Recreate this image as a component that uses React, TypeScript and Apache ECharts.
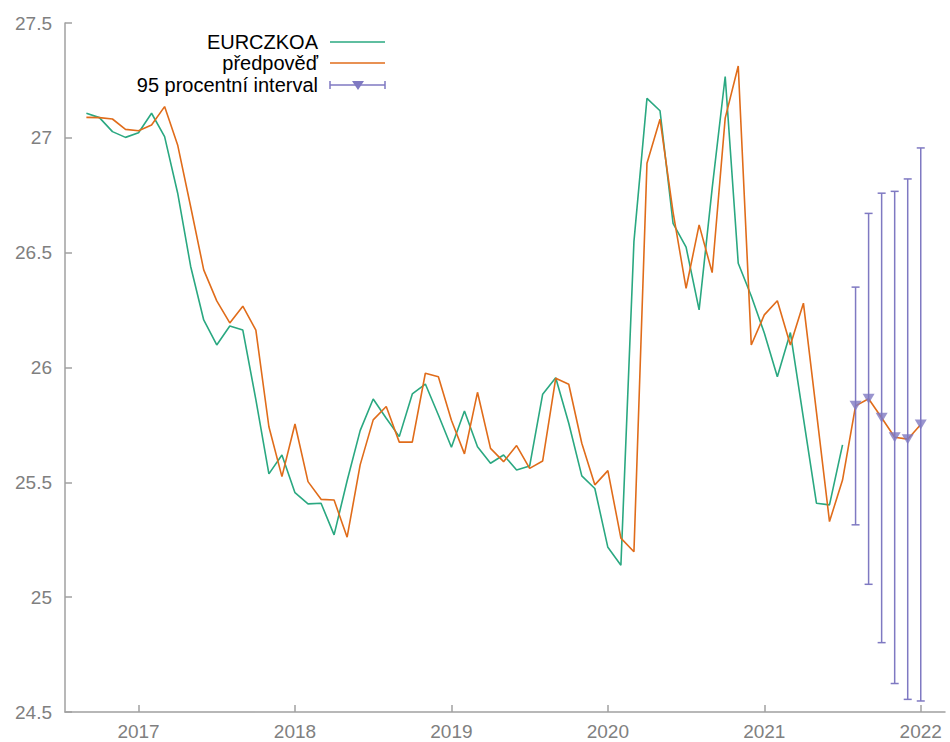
import React, { useEffect, useRef } from "react";
import * as echarts from "echarts";

const START_YEAR = 2016;
const START_MONTH = 9;

// EURCZKOA (actual), monthly from 2016-09 to 2021-07
const actual = [
  27.107, 27.088, 27.027, 27.002, 27.022, 27.107, 27.005, 26.76, 26.44, 26.207,
  26.098, 26.181, 26.163, 25.86, 25.537, 25.619, 25.455, 25.406, 25.409, 25.271,
  25.507, 25.725, 25.863, 25.779, 25.699, 25.885, 25.928, 25.793, 25.653, 25.811,
  25.655, 25.583, 25.619, 25.554, 25.571, 25.884, 25.955, 25.757, 25.528, 25.473,
  25.217, 25.139, 26.548, 27.172, 27.118, 26.628, 26.524, 26.251, 26.78, 27.267,
  26.454, 26.311, 26.15, 25.96, 26.152, 25.78, 25.409, 25.402, 25.663,
];

// předpověď (forecast), monthly from 2016-09 to 2022-01
const forecast = [
  27.089, 27.088, 27.082, 27.037, 27.031, 27.056, 27.136, 26.969, 26.7, 26.425,
  26.29, 26.194, 26.267, 26.163, 25.742, 25.525, 25.754, 25.503, 25.426, 25.423,
  25.261, 25.576, 25.772, 25.83, 25.675, 25.675, 25.975, 25.96, 25.77, 25.624,
  25.892, 25.648, 25.59, 25.66, 25.561, 25.593, 25.953, 25.927, 25.67, 25.489,
  25.551, 25.257, 25.198, 26.889, 27.081, 26.677, 26.345, 26.621, 26.413, 27.086,
  27.313, 26.098, 26.229, 26.291, 26.098, 26.28, 25.806, 25.329, 25.51, 25.833,
  25.864, 25.781, 25.696, 25.688, 25.752,
];

// 95 procentní interval, 2021-08 .. 2022-01
const INTERVAL_START = 59;
const intervalLower = [25.315, 25.056, 24.802, 24.624, 24.555, 24.548];
const intervalUpper = [26.35, 26.671, 26.759, 26.767, 26.821, 26.956];

const yearTicks = [2017, 2018, 2019, 2020, 2021, 2022];
const legendLabels = ["EURCZKOA", "předpověď", "95 procentní interval"];

const GREEN = "#2aa881";
const ORANGE = "#e06c1a";
const PURPLE = "#7f79c2";
const FONT = "Liberation Sans";

const t = (i: number) => START_YEAR + (START_MONTH - 1 + i) / 12;

export default function App() {
  const ref = useRef<HTMLDivElement>(null);

  useEffect(() => {
    if (!ref.current) return;
    const chart = echarts.init(ref.current, undefined, { renderer: "svg" });

    const actualData = actual.map((v, i) => [t(i), v]);
    const forecastData = forecast.map((v, i) => [t(i), v]);
    const barData = intervalLower.map((lo, k) => [t(INTERVAL_START + k), lo, intervalUpper[k]]);
    const markerData = forecast.slice(INTERVAL_START).map((v, k) => [t(INTERVAL_START + k), v]);

    const legendY = [42, 63, 85];
    const lx1 = 330;
    const lx2 = 385;
    const textX = 318;

    chart.setOption({
      animation: false,
      grid: { left: 65, right: 5, top: 23, bottom: 30, containLabel: false },
      xAxis: {
        type: "value",
        min: 2016.53,
        max: 2022.155,
        splitLine: { show: false },
        axisLine: { show: true, lineStyle: { color: "#a0a0a0", width: 1.5 } },
        axisTick: {
          show: true,
          inside: true,
          length: 7,
          customValues: yearTicks,
          lineStyle: { color: "#a0a0a0", width: 1.5 },
        },
        axisLabel: {
          customValues: yearTicks,
          formatter: (v: number) => String(Math.round(v)),
          color: "#808080",
          fontSize: 19,
          fontFamily: FONT,
          margin: 10,
        },
      },
      yAxis: {
        type: "value",
        min: 24.5,
        max: 27.5,
        interval: 0.5,
        splitLine: { show: false },
        axisLine: { show: true, lineStyle: { color: "#a0a0a0", width: 1.5 } },
        axisTick: { show: true, inside: true, length: 7, lineStyle: { color: "#a0a0a0", width: 1.5 } },
        axisLabel: {
          color: "#808080",
          fontSize: 19,
          fontFamily: FONT,
          margin: 13,
        },
      },
      series: [
        {
          name: "EURCZKOA",
          type: "line",
          data: actualData,
          showSymbol: false,
          lineStyle: { color: GREEN, width: 1.6 },
          itemStyle: { color: GREEN },
          z: 3,
        },
        {
          name: "předpověď",
          type: "line",
          data: forecastData,
          showSymbol: false,
          lineStyle: { color: ORANGE, width: 1.6 },
          itemStyle: { color: ORANGE },
          z: 4,
        },
        {
          name: "95 procentní interval",
          type: "custom",
          data: barData,
          encode: { x: 0, y: [1, 2] },
          z: 5,
          renderItem: (params: any, api: any) => {
            const x = api.value(0);
            const p1 = api.coord([x, api.value(1)]);
            const p2 = api.coord([x, api.value(2)]);
            const cap = 4;
            const style = { stroke: PURPLE, lineWidth: 1.5 };
            return {
              type: "group",
              children: [
                { type: "line", shape: { x1: p1[0], y1: p1[1], x2: p2[0], y2: p2[1] }, style },
                { type: "line", shape: { x1: p1[0] - cap, y1: p1[1], x2: p1[0] + cap, y2: p1[1] }, style },
                { type: "line", shape: { x1: p2[0] - cap, y1: p2[1], x2: p2[0] + cap, y2: p2[1] }, style },
              ],
            };
          },
        },
        {
          name: "markers",
          type: "scatter",
          data: markerData,
          symbol: "triangle",
          symbolRotate: 180,
          symbolSize: [12, 10],
          itemStyle: { color: PURPLE },
          z: 6,
        },
      ],
      graphic: [
        ...legendLabels.map((label, k) => ({
          type: "text",
          x: textX,
          y: legendY[k],
          style: {
            text: label,
            fill: "#000",
            fontSize: 20,
            fontFamily: FONT,
            textAlign: "right",
            textVerticalAlign: "middle",
          },
        })),
        {
          type: "line",
          shape: { x1: lx1, y1: legendY[0], x2: lx2, y2: legendY[0] },
          style: { stroke: GREEN, lineWidth: 1.6 },
        },
        {
          type: "line",
          shape: { x1: lx1, y1: legendY[1], x2: lx2, y2: legendY[1] },
          style: { stroke: ORANGE, lineWidth: 1.6 },
        },
        {
          type: "line",
          shape: { x1: lx1, y1: legendY[2], x2: lx2, y2: legendY[2] },
          style: { stroke: PURPLE, lineWidth: 1.5 },
        },
        {
          type: "line",
          shape: { x1: lx1, y1: legendY[2] - 4, x2: lx1, y2: legendY[2] + 4 },
          style: { stroke: PURPLE, lineWidth: 1.5 },
        },
        {
          type: "line",
          shape: { x1: lx2, y1: legendY[2] - 4, x2: lx2, y2: legendY[2] + 4 },
          style: { stroke: PURPLE, lineWidth: 1.5 },
        },
        {
          type: "polygon",
          shape: {
            points: [
              [352, legendY[2] - 4],
              [364, legendY[2] - 4],
              [358, legendY[2] + 5],
            ],
          },
          style: { fill: PURPLE },
        },
      ],
    });

    return () => chart.dispose();
  }, []);

  return (
    <div
      ref={ref}
      style={{ position: "absolute", left: 0, top: 0, width: 950, height: 742, background: "#fff" }}
    />
  );
}
